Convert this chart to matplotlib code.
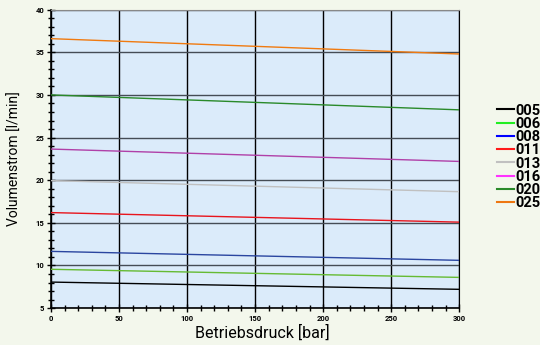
import matplotlib.pyplot as plt
from matplotlib.ticker import MultipleLocator
from matplotlib.lines import Line2D

# pressure range [bar]
druck = [0, 300]

# flow at 0 bar and at 300 bar [l/min]
series = ['005', '006', '008', '011', '013', '016', '020', '025']
start = [8.05, 9.55, 11.65, 16.2, 19.95, 23.65, 30.0, 36.6]
end = [7.2, 8.6, 10.6, 15.08, 18.65, 22.2, 28.25, 34.8]
colors = ['#000000', '#66bb33', '#2a45a0', '#e8141c', '#c0c0c0', '#b040a8', '#2a8a2a', '#f07a10']
legend_colors = ['#000000', '#22ee22', '#0000ff', '#ff1a1a', '#c0c0c0', '#ff33ff', '#2a8a2a', '#ee7711']

plt.rcParams['font.family'] = ['Roboto', 'DejaVu Sans']

fig = plt.figure(figsize=(5.4, 3.45), dpi=100)
fig.patch.set_facecolor('#f3f7ec')
ax = fig.add_axes([0.0944, 0.107, 0.756, 0.865])
ax.set_facecolor('#dbebfa')

for i in range(len(series)):
    ax.plot(druck, [start[i], end[i]], color=colors[i], lw=1, zorder=3)

ax.set_xlim(0, 300)
ax.set_ylim(5, 40)
ax.xaxis.set_major_locator(MultipleLocator(50))
ax.xaxis.set_minor_locator(MultipleLocator(10))
ax.yaxis.set_major_locator(MultipleLocator(5))
ax.yaxis.set_minor_locator(MultipleLocator(1))
ax.grid(axis='x', which='major', color='black', lw=1, zorder=1)
ax.grid(axis='y', which='major', color='#454c55', lw=1, zorder=1)
ax.tick_params(which='major', direction='inout', length=6, width=1, labelsize=5.5, pad=2)
ax.tick_params(which='minor', direction='inout', length=5, width=1)
for lab in ax.get_xticklabels() + ax.get_yticklabels():
    lab.set_fontweight('bold')
for s in ['left', 'bottom']:
    ax.spines[s].set_linewidth(1.2)
ax.spines['top'].set_color('#888888')
ax.spines['right'].set_color('black')

ax.set_xlabel('Betriebsdruck [bar]', fontsize=11.5)
ax.xaxis.set_label_coords(0.517, -0.055)
ax.set_ylabel('Volumenstrom [l/min]', fontsize=10, labelpad=10)

handles = [Line2D([], [], color=c, lw=1.5) for c in legend_colors]
leg = fig.legend(handles, series, loc='upper left', bbox_to_anchor=(0.92, 0.70),
                 frameon=False, borderpad=0, borderaxespad=0,
                 handlelength=1.2, handletextpad=0.1, labelspacing=-0.05,
                 prop={'family': 'Roboto', 'weight': 'bold', 'size': 10.5})

fig.savefig('out.png', dpi=100, facecolor=fig.get_facecolor())
